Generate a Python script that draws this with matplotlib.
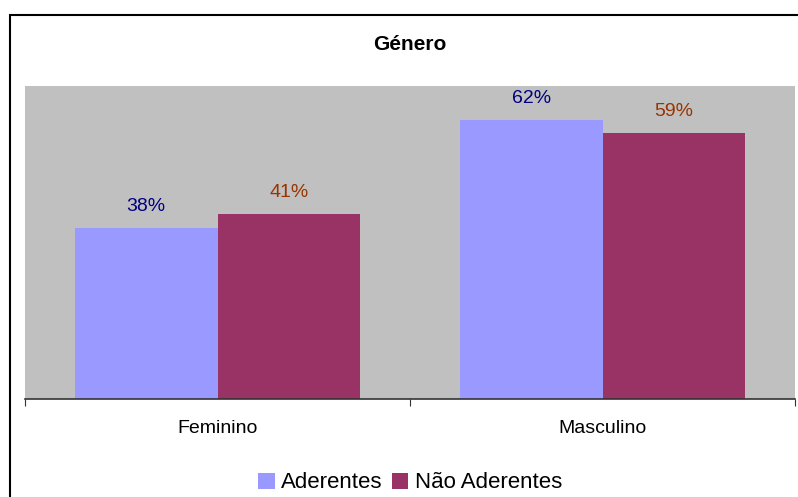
import numpy as np
import matplotlib.pyplot as plt
from matplotlib.patches import Rectangle

plt.rcParams['font.family'] = ['Liberation Sans', 'DejaVu Sans']

categorias = ['Feminino', 'Masculino']
series = ['Aderentes', 'Não Aderentes']
aderentes = [38, 62]
nao_aderentes = [41, 59]

cores = ['#9999FF', '#993366']
cores_rotulo = ['#000080', '#993300']

W, H = 798, 497
fig = plt.figure(figsize=(W / 100, H / 100), dpi=100)
ax = fig.add_axes([25 / W, (H - 399) / H, (795 - 25) / W, (399 - 86) / H])
ax.set_facecolor('#C0C0C0')

x = np.arange(len(categorias))
largura = 0.37
for i, (nome, valores) in enumerate(zip(series, [aderentes, nao_aderentes])):
    pos = x + (i - 0.5) * largura
    ax.bar(pos, valores, largura, color=cores[i], label=nome, zorder=2)
    for p, v in zip(pos, valores):
        ax.annotate(f'{v}%', (p, v), xytext=(0, 9.5), textcoords='offset points',
                    ha='center', va='bottom', fontsize=14, color=cores_rotulo[i])

ax.set_xlim(-0.5, 1.5)
ax.set_ylim(0, 69.5)
ax.set_yticks([])
for lado in ['top', 'right', 'left']:
    ax.spines[lado].set_visible(False)
ax.spines['bottom'].set_color('#333333')
ax.spines['bottom'].set_linewidth(1.2)

# ticks between the categories, labels centred on each group
ax.set_xticks([-0.5, 0.5, 1.5])
ax.set_xticklabels([])
ax.set_xticks(x, minor=True)
ax.set_xticklabels(categorias, minor=True, fontsize=14)
ax.tick_params(axis='x', which='major', length=5, color='#333333', direction='out')
ax.tick_params(axis='x', which='minor', length=0, pad=15)

fig.text(410 / W, 1 - 44 / H, 'Género', ha='center', va='center',
         fontsize=15, fontweight='bold')

fig.legend(loc='center', bbox_to_anchor=(410 / W, 1 - 483 / H), ncol=2,
           frameon=False, fontsize=16, handlelength=0.75, handleheight=0.75,
           handletextpad=0.3, columnspacing=0.4)

# outer chart border
fig.patches.append(Rectangle((9.5 / W, -0.1), 1.0, 1.1 - 14.5 / H, transform=fig.transFigure,
                             fill=False, edgecolor='black', linewidth=1.5))

fig.savefig('out.png', dpi=100)
